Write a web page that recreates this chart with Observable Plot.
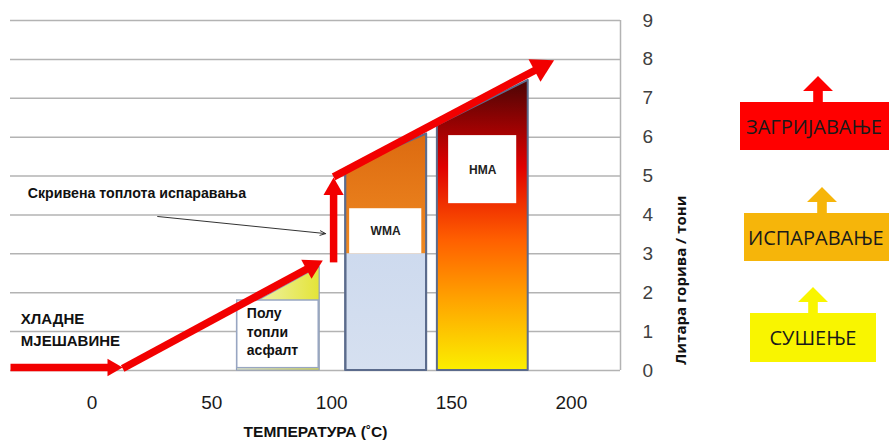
<!DOCTYPE html>
<html>
<head>
<meta charset="utf-8">
<script src="https://cdn.jsdelivr.net/npm/d3@7"></script>
<script src="https://cdn.jsdelivr.net/npm/@observablehq/plot@0.6"></script>
<style>
  body { margin: 0; background: #fff; }
  #wrap { position: relative; width: 889px; height: 442px; overflow: hidden; }
  .lg { position: absolute; font-family: "Open Sans", sans-serif; font-size: 20px; color: #1a1a1a;
        display: flex; align-items: center; white-space: nowrap; box-sizing: border-box; }
  .ar { position: absolute; width: 30px; height: 26px;
        clip-path: polygon(50% 0, 100% 58%, 66% 58%, 66% 100%, 34% 100%, 34% 58%, 0 58%); }
</style>
</head>
<body>
<svg width="0" height="0" style="position:absolute">
  <defs>
    <linearGradient id="hmaGrad" x1="0" y1="0" x2="0" y2="1">
      <stop offset="0" stop-color="#4a0505"/>
      <stop offset="0.3" stop-color="#e00000"/>
      <stop offset="0.55" stop-color="#ff5f00"/>
      <stop offset="0.76" stop-color="#ffa400"/>
      <stop offset="1" stop-color="#fbef00"/>
    </linearGradient>
    <linearGradient id="wmaGrad" x1="0" y1="0" x2="0" y2="1">
      <stop offset="0" stop-color="#dc6a10"/>
      <stop offset="1" stop-color="#f08a22"/>
    </linearGradient>
    <linearGradient id="blueGrad" x1="0" y1="0" x2="0" y2="1">
      <stop offset="0" stop-color="#c5d4ec"/>
      <stop offset="1" stop-color="#d6e0f0"/>
    </linearGradient>
    <linearGradient id="semiGrad" x1="0" y1="0" x2="1" y2="0">
      <stop offset="0" stop-color="#f2f6cc"/>
      <stop offset="1" stop-color="#e4e438"/>
    </linearGradient>
  </defs>
</svg>
<div id="wrap"></div>
<script>
// ---- axis ticks ----
const xTicks = [0, 50, 100, 150, 200];
const yTicks = [0, 1, 2, 3, 4, 5, 6, 7, 8, 9];
const xDomain = [-34, 220.5];
const yDomain = [0, 9];

// ---- heating path (temperature °C, litres of fuel / ton) ----
const pathX1 = [-34, 12.8, 100.8, 100.8];
const pathY1 = [0.08, 0.05, 2.78, 4.98];
const pathX2 = [12.8, 96.3, 100.8, 192.8];
const pathY2 = [0.08, 2.83, 4.96, 7.98];
const headR = [6.5, 8, 7.5, 9.5];

// ---- mix zones ----
const zoneNames = ["Полу топли асфалт", "WMA", "HMA"];
const zoneX0 = [60.5, 105.9, 144.1];
const zoneX1 = [95.0, 139.6, 182.0];
const zoneTop0 = [1.49, 5.18, 6.30];
const zoneTop1 = [2.66, 6.08, 7.46];
const zoneFill = ["url(#semiGrad)", "url(#blueGrad)", "url(#hmaGrad)"];
const zoneStroke = ["#8e9cba", "#5b6b8c", "#5b6b8c"];
const wmaSplit = 3.0;

// ---- label boxes (data units) ----
const boxText = ["Полу\nтопли\nасфалт", "WMA", "HMA"];
const boxX1 = [60.6, 107.5, 148.8];
const boxX2 = [94.6, 137.6, 177.2];
const boxY1 = [0.06, 3.0, 4.29];
const boxY2 = [1.8, 4.16, 6.04];
const boxTextX = [64.6, 122.5, 163];
const boxTextY = [1.02, 3.58, 5.14];

// ---- annotations ----
const coldText = "ХЛАДНЕ\nМЈЕШАВИНЕ";
const coldX = -29.7, coldY = 1.1;
const latentText = "Скривена топлота испаравања";
const latentX = -26.8, latentY = 4.55;
const latentArrowX1 = 27.4, latentArrowY1 = 3.96, latentArrowX2 = 97.5, latentArrowY2 = 3.52;

// ---- legend ----
const legendLabels = ["ЗАГРИЈАВАЊЕ", "ИСПАРАВАЊЕ", "СУШЕЊЕ"];
const legendColors = ["#ff0000", "#f6b50a", "#f9f500"];

const xTitle = "ТЕМПЕРАТУРА (˚C)";
const yTitle = "Литара горива / тони";

// ---- layout ----
const W = 889, H = 442, mL = 10, mR = 269, mT = 20, mB = 72;
const sx = Plot.scale({x: {domain: xDomain, range: [mL, W - mR]}});
const sy = Plot.scale({y: {domain: yDomain, range: [H - mB, mT]}});

// shafts and filled triangular heads, computed through the scales
const shafts = [], heads = [];
pathX1.forEach((x1, i) => {
  const p1 = [sx.apply(x1), sy.apply(pathY1[i])];
  const p2 = [sx.apply(pathX2[i]), sy.apply(pathY2[i])];
  const dx = p2[0] - p1[0], dy = p2[1] - p1[1], len = Math.hypot(dx, dy);
  const ux = dx / len, uy = dy / len;
  const r = headR[i], h = 2.333 * r, tipOff = 1.555 * r;
  const c = [p2[0] - tipOff * ux, p2[1] - tipOff * uy];
  const e = [p2[0] - 0.8 * h * ux, p2[1] - 0.8 * h * uy];
  shafts.push({x1, y1: pathY1[i], x2: sx.invert(e[0]), y2: sy.invert(e[1])});
  heads.push({x: sx.invert(c[0]), y: sy.invert(c[1]), r, rotate: Math.atan2(dx, -dy) * 180 / Math.PI});
});

const zones = zoneNames.map((n, i) => [
  {name: n, x: zoneX0[i], y: zoneTop0[i]},
  {name: n, x: zoneX1[i], y: zoneTop1[i]}
]);
const boxes = boxText.map((t, i) => ({t, x1: boxX1[i], x2: boxX2[i], y1: boxY1[i], y2: boxY2[i], tx: boxTextX[i], ty: boxTextY[i]}));

const font = "Liberation Sans, Arial, sans-serif";

const zoneMarks = zones.map((z, i) => Plot.areaY(z, {
  x: "x", y1: () => 0, y2: "y", fill: zoneFill[i], stroke: zoneStroke[i], strokeWidth: i === 0 ? 1.2 : 2
}));
const wmaOrange = Plot.areaY(zones[1], {x: "x", y1: () => wmaSplit, y2: "y", fill: "url(#wmaGrad)"});
const wmaOutline = Plot.areaY(zones[1], {x: "x", y1: () => 0, y2: "y", fill: "none", stroke: zoneStroke[1], strokeWidth: 2});

const red = "#f20000";
const headMarks = heads.map(h => Plot.dot([h], {x: "x", y: "y", r: h.r, rotate: h.rotate, symbol: "triangle", fill: red, stroke: "none"}));

const plot = Plot.plot({
  width: W, height: H,
  marginLeft: mL, marginRight: mR, marginTop: mT, marginBottom: mB,
  style: {fontFamily: font, background: "transparent", overflow: "visible"},
  x: {domain: xDomain},
  y: {domain: yDomain},
  marks: [
    Plot.gridY(yTicks, {stroke: "#b3b3b3", strokeOpacity: 1, strokeWidth: 1.5}),
    Plot.ruleX([xDomain[1]], {stroke: "#b3b3b3", strokeWidth: 1.5}),
    ...zoneMarks,
    wmaOrange,
    wmaOutline,
    Plot.rect(boxes, {x1: "x1", x2: "x2", y1: "y1", y2: "y2", fill: "white",
      stroke: (d, i) => i === 0 ? "#98a6c2" : "none", strokeWidth: 1.5}),
    Plot.text(boxes.slice(0, 1), {x: "tx", y: "ty", text: "t", textAnchor: "start", fontSize: 14, fontWeight: "bold", lineHeight: 1.3, fill: "#111"}),
    Plot.text(boxes.slice(1), {x: "tx", y: "ty", text: "t", fontSize: 12, fontWeight: "bold", fill: "#222"}),
    Plot.link(shafts, {x1: "x1", y1: "y1", x2: "x2", y2: "y2", stroke: red, strokeWidth: 7.5, strokeLinecap: "butt"}),
    ...headMarks,
    Plot.arrow([0], {x1: () => latentArrowX1, y1: () => latentArrowY1, x2: () => latentArrowX2, y2: () => latentArrowY2, stroke: "#333", strokeWidth: 1, headLength: 9, headAngle: 45}),
    Plot.text([latentText], {x: latentX, y: latentY, text: d => d, textAnchor: "start", fontSize: 14.2, fontWeight: "bold", fill: "#111"}),
    Plot.text([coldText], {x: coldX, y: coldY, text: d => d, textAnchor: "start", fontSize: 15, fontWeight: "bold", lineHeight: 1.45, fill: "#111"}),
    Plot.axisX(xTicks, {tickSize: 0, tickPadding: 25, fontSize: 19, fill: "#1a1a1a", label: null}),
    Plot.axisY(yTicks, {anchor: "right", tickSize: 0, tickPadding: 22, fontSize: 19, fill: "#404040", label: null}),
    Plot.text([xTitle], {frameAnchor: "bottom", dy: 66, text: d => d, fontSize: 15.5, fontWeight: "bold", fill: "#111"}),
    Plot.text([yTitle], {frameAnchor: "right", dx: 61, rotate: -90, text: d => d, fontSize: 15, fontWeight: "bold", fill: "#111", fontFamily: "Open Sans, sans-serif"})
  ]
});

const wrap = document.getElementById("wrap");
wrap.appendChild(plot);

// legend boxes with arrows (HTML, outside the SVG)
const legendBoxes = [
  {left: 740, top: 102, width: 160, height: 48, pad: 6, align: "flex-start", arrowLeft: 803, arrowTop: 76},
  {left: 744, top: 213, width: 150, height: 48, pad: 4, align: "flex-start", arrowLeft: 807, arrowTop: 187},
  {left: 750, top: 313, width: 126, height: 49, pad: 0, align: "center", arrowLeft: 798, arrowTop: 287}
];
legendLabels.forEach((lab, i) => {
  const b = legendBoxes[i];
  const box = document.createElement("div");
  box.className = "lg";
  Object.assign(box.style, {left: b.left + "px", top: b.top + "px", width: b.width + "px", height: b.height + "px",
    background: legendColors[i], paddingLeft: b.pad + "px", justifyContent: b.align});
  box.textContent = lab;
  wrap.appendChild(box);
  const ar = document.createElement("div");
  ar.className = "ar";
  Object.assign(ar.style, {left: b.arrowLeft + "px", top: b.arrowTop + "px", background: legendColors[i]});
  wrap.appendChild(ar);
});
</script>
</body>
</html>
